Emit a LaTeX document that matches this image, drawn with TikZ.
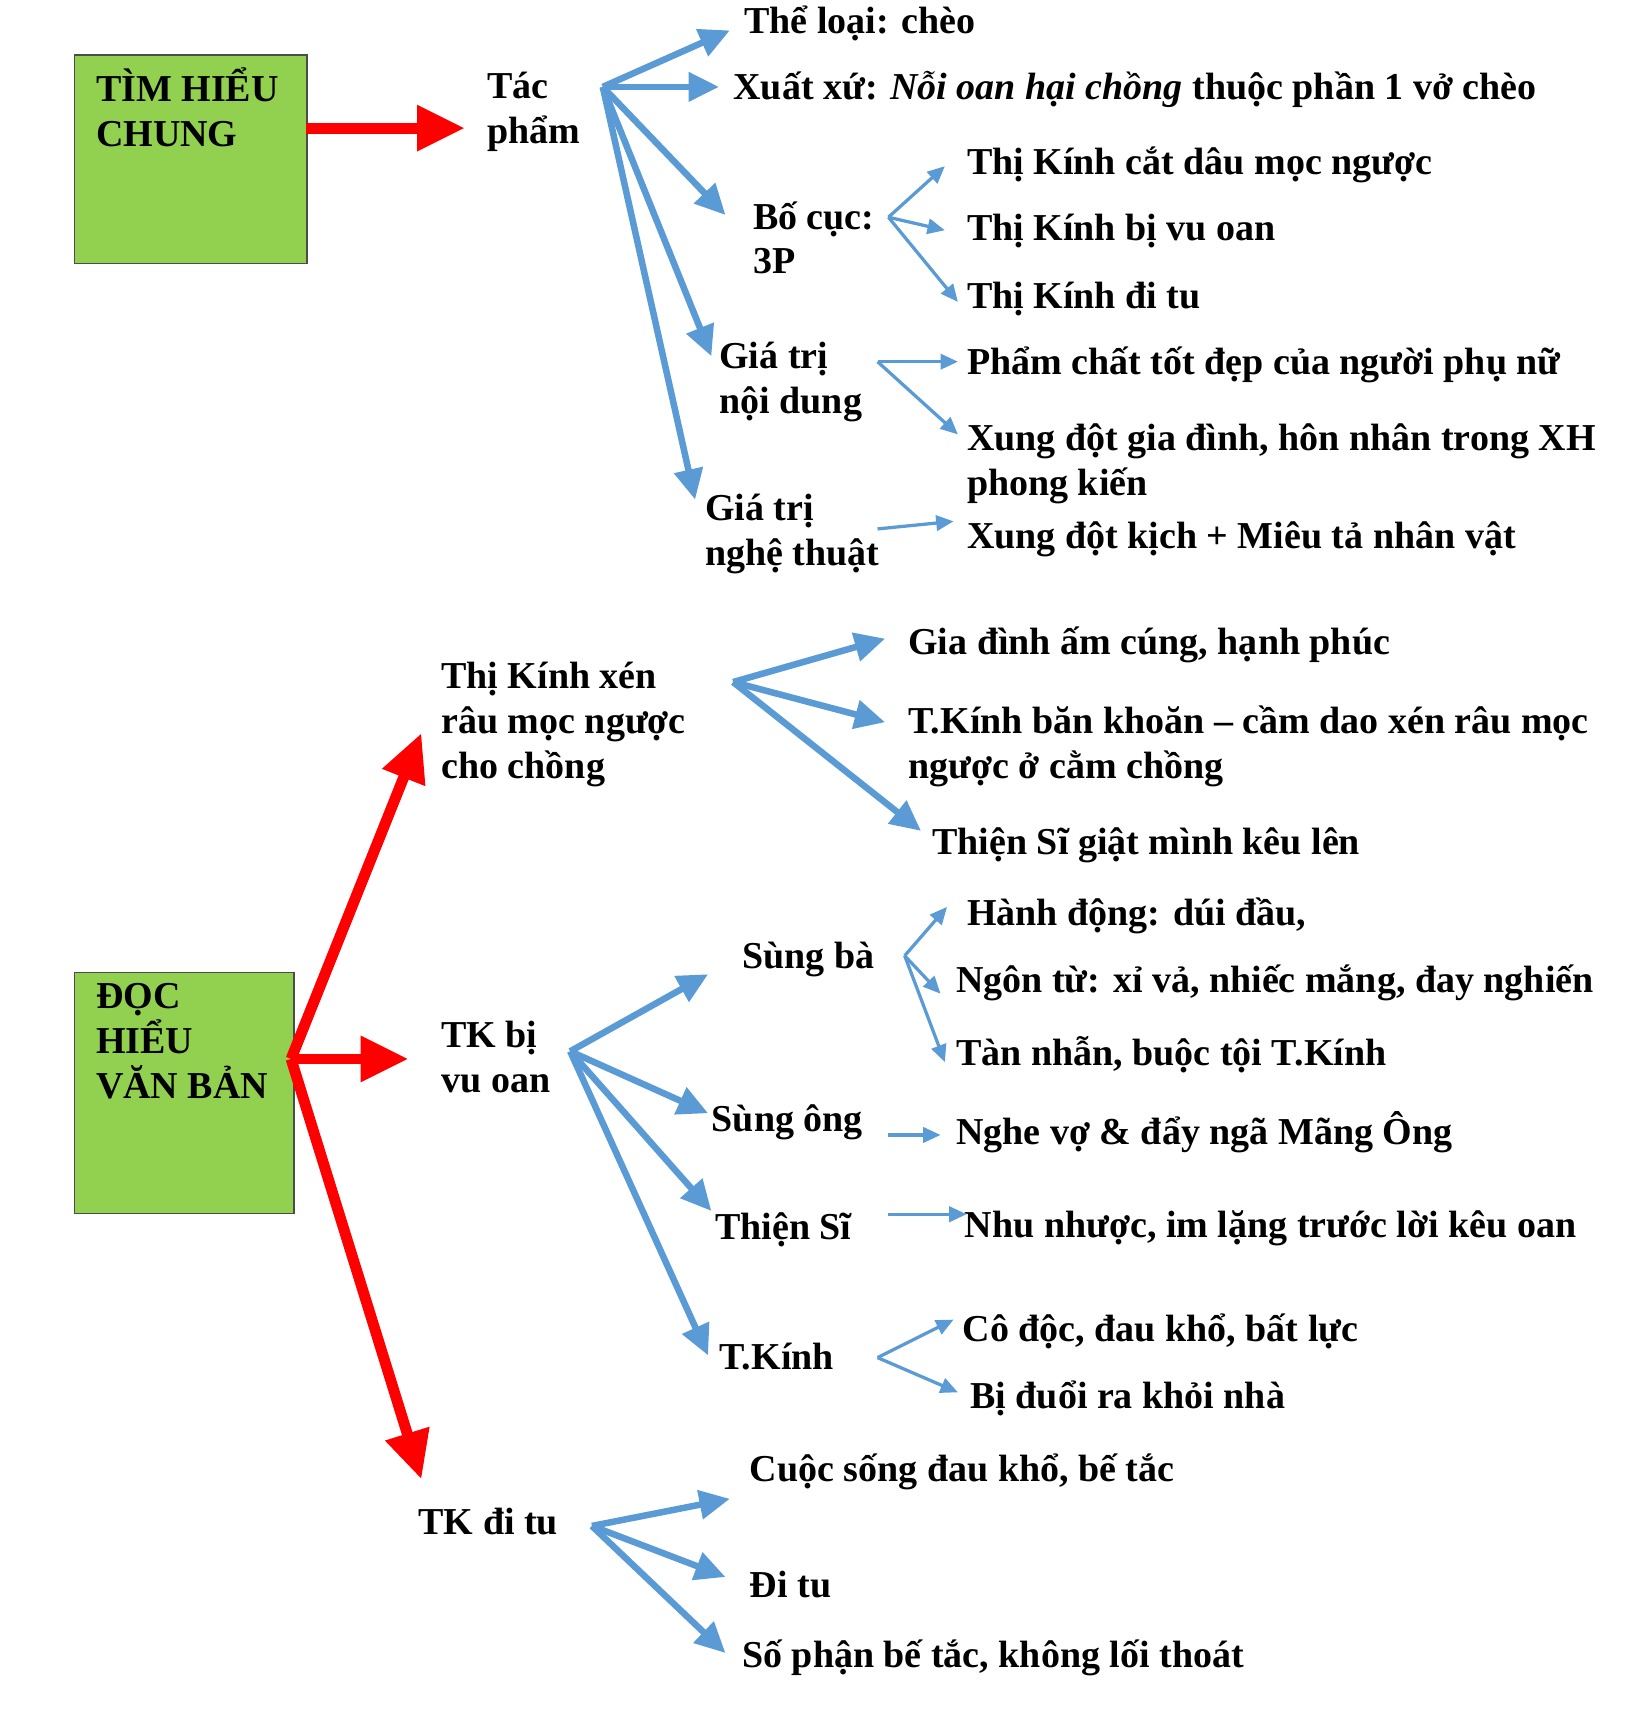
\documentclass[tikz,border=0pt]{standalone}
\usepackage{fontspec}
\setmainfont{Liberation Serif}
\usetikzlibrary{arrows.meta}
\begin{document}
\begin{tikzpicture}[x=0.5pt,y=-0.5pt,
  txt/.style={anchor=west,align=left,inner sep=0pt,font=\fontsize{17.5}{20.7}\selectfont\bfseries},
  box/.style={draw=black!70,fill={rgb,255:red,146;green,208;blue,80},line width=0.6pt},
  red/.style={draw={rgb,255:red,255;green,0;blue,0},line width=5pt,-{Triangle[length=22pt,width=20pt]}},
  blk/.style={draw={rgb,255:red,91;green,155;blue,213},line width=3pt,-{Triangle[length=14pt,width=13pt]}},
  bthin/.style={draw={rgb,255:red,91;green,155;blue,213},line width=1.5pt,-{Triangle[length=8pt,width=7pt]}}]
\useasboundingbox (0,0) rectangle (1500,1580);
% boxes
\node[box,minimum width=107pt,minimum height=96pt,anchor=north west] (b1) at (68,50) {};
\node[txt,anchor=north west] at (88,62) {TÌM HIỂU\\CHUNG};
\node[box,minimum width=101pt,minimum height=111pt,anchor=north west] (b2) at (68,895) {};
\node[txt,anchor=north west] at (88,905) {ĐỌC\\HIỂU\\VĂN BẢN};
% part 1
\node[txt] (tp) at (448,103) {Tác\\phẩm};
\coordinate (tpo) at (555,80);
\draw[red] (282,118) -- (428,118);
\node[txt] (tl) at (685,22) {Thể loại: chèo};
\node[txt] (xx) at (675,82) {Xuất xứ: \textit{Nỗi oan hại chồng} thuộc phần 1 vở chèo};
\node[txt] (bc) at (693,219) {Bố cục:\\3P};
\node[txt] (nd) at (662,352) {Giá trị\\nội dung};
\node[txt] (nt) at (649,492) {Giá trị\\nghệ thuật};
\draw[blk] (tpo) -- (672,28);
\draw[blk] (tpo) -- (662,80);
\draw[blk] (tpo) -- (668,198);
\draw[blk] (tpo) -- (655,328);
\draw[blk] (tpo) -- (640,460);
\node[txt] (bc1) at (890,152) {Thị Kính cắt dâu mọc ngược};
\node[txt] (bc2) at (890,213) {Thị Kính bị vu oan};
\node[txt] (bc3) at (890,275) {Thị Kính đi tu};
\coordinate (bco) at (818,200);
\draw[bthin] (bco) -- (870,153);
\draw[bthin] (bco) -- (870,212);
\draw[bthin] (bco) -- (882,278);
\node[txt] (nd1) at (890,336) {Phẩm chất tốt đẹp của người phụ nữ};
\node[txt] (nd2) at (890,427) {Xung đột gia đình, hôn nhân trong XH\\phong kiến};
\coordinate (ndo) at (808,333);
\draw[bthin] (ndo) -- (882,333);
\draw[bthin] (ndo) -- (882,400);
\node[txt] (nt1) at (890,497) {Xung đột kịch + Miêu tả nhân vật};
\draw[bthin] (808,487) -- (878,480);
% part 2
\coordinate (b2o) at (268,975);
\node[txt] (x1) at (406,667) {Thị Kính xén\\râu mọc ngược\\cho chồng};
\node[txt] (x2) at (406,973) {TK bị\\vu oan};
\node[txt] (x3) at (385,1401) {TK đi tu};
\draw[red] (b2o) -- (388,675);
\draw[red] (b2o) -- (376,975);
\draw[red] (b2o) -- (388,1362);
\coordinate (x1o) at (675,628);
\node[txt] (a1) at (836,594) {Gia đình ấm cúng, hạnh phúc};
\node[txt] (a2) at (836,687) {T.Kính băn khoăn – cầm dao xén râu mọc\\ngược ở cằm chồng};
\node[txt] (a3) at (858,778) {Thiện Sĩ giật mình kêu lên};
\draw[blk] (x1o) -- (815,588);
\draw[blk] (x1o) -- (815,665);
\draw[blk] (x1o) -- (848,765);
\coordinate (x2o) at (525,968);
\node[txt] (sb) at (683,883) {Sùng bà};
\node[txt] (so) at (655,1033) {Sùng ông};
\node[txt] (ts) at (658,1132) {Thiện Sĩ};
\node[txt] (tk) at (662,1249) {T.Kính};
\draw[blk] (x2o) -- (652,897);
\draw[blk] (x2o) -- (652,1025);
\draw[blk] (x2o) -- (655,1115);
\draw[blk] (x2o) -- (652,1248);
\coordinate (sbo) at (833,880);
\node[txt] (sb1) at (890,843) {Hành động: dúi đầu,};
\node[txt] (sb2) at (880,905) {Ngôn từ: xỉ vả, nhiếc mắng, đay nghiến};
\node[txt] (sb3) at (880,971) {Tàn nhẫn, buộc tội T.Kính};
\draw[bthin] (sbo) -- (872,835);
\draw[bthin] (sbo) -- (866,915);
\draw[bthin] (sbo) -- (870,978);
\node[txt] (so1) at (880,1042) {Nghe vợ \& đẩy ngã Mãng Ông};
\draw[bthin] (818,1045) -- (866,1045);
\node[txt] (ts1) at (888,1131) {Nhu nhược, im lặng trước lời kêu oan};
\draw[bthin] (818,1118) -- (890,1118);
\coordinate (tko) at (808,1250);
\node[txt] (tk1) at (886,1226) {Cô độc, đau khổ, bất lực};
\node[txt] (tk2) at (893,1288) {Bị đuổi ra khỏi nhà};
\draw[bthin] (tko) -- (878,1215);
\draw[bthin] (tko) -- (882,1282);
\coordinate (x3o) at (545,1405);
\node[txt] (c1) at (690,1355) {Cuộc sống đau khổ, bế tắc};
\node[txt] (c2) at (690,1459) {Đi tu};
\node[txt] (c3) at (683,1526) {Số phận bế tắc, không lối thoát};
\draw[blk] (x3o) -- (672,1380);
\draw[blk] (x3o) -- (668,1452);
\draw[blk] (x3o) -- (668,1522);
\end{tikzpicture}
\end{document}
